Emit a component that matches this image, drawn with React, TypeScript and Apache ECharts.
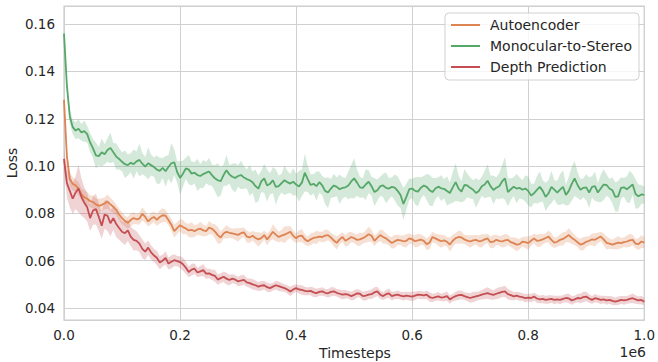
import React, { useEffect, useRef } from "react";
import * as echarts from "echarts";

// Timesteps sampled every 5000 steps from 0 to 1e6 (201 samples)
const TIMESTEPS: number[] = Array.from({ length: 201 }, (_, i) => i * 5000);

const SERIES_NAMES = ["Autoencoder", "Monocular-to-Stereo", "Depth Prediction"];

const AUTOENCODER_MEAN = [
  0.1280, 0.1040, 0.0945, 0.0925, 0.0918, 0.0905, 0.0880, 0.0868, 0.0862, 0.0852,
  0.0848, 0.0838, 0.0832, 0.0836, 0.0842, 0.0850, 0.0838, 0.0828, 0.0815, 0.0795,
  0.0780, 0.0768, 0.0760, 0.0772, 0.0780, 0.0775, 0.0778, 0.0798, 0.0785, 0.0766,
  0.0778, 0.0785, 0.0772, 0.0785, 0.0792, 0.0790, 0.0772, 0.0752, 0.0725, 0.0738,
  0.0750, 0.0742, 0.0736, 0.0728, 0.0730, 0.0725, 0.0732, 0.0735, 0.0728, 0.0725,
  0.0740, 0.0735, 0.0724, 0.0708, 0.0698, 0.0715, 0.0722, 0.0718, 0.0715, 0.0712,
  0.0709, 0.0716, 0.0720, 0.0702, 0.0698, 0.0705, 0.0696, 0.0690, 0.0695, 0.0708,
  0.0690, 0.0705, 0.0722, 0.0710, 0.0700, 0.0706, 0.0710, 0.0716, 0.0722, 0.0705,
  0.0695, 0.0704, 0.0706, 0.0690, 0.0682, 0.0690, 0.0696, 0.0698, 0.0702, 0.0700,
  0.0706, 0.0708, 0.0698, 0.0685, 0.0675, 0.0690, 0.0700, 0.0684, 0.0692, 0.0700,
  0.0695, 0.0688, 0.0690, 0.0695, 0.0702, 0.0712, 0.0705, 0.0684, 0.0696, 0.0708,
  0.0700, 0.0694, 0.0684, 0.0675, 0.0682, 0.0688, 0.0686, 0.0682, 0.0684, 0.0694,
  0.0690, 0.0682, 0.0686, 0.0689, 0.0684, 0.0670, 0.0676, 0.0700, 0.0694, 0.0688,
  0.0682, 0.0686, 0.0680, 0.0668, 0.0684, 0.0695, 0.0700, 0.0698, 0.0690, 0.0685,
  0.0681, 0.0686, 0.0688, 0.0682, 0.0684, 0.0690, 0.0694, 0.0678, 0.0680, 0.0688,
  0.0684, 0.0681, 0.0686, 0.0688, 0.0678, 0.0674, 0.0668, 0.0670, 0.0680, 0.0678,
  0.0674, 0.0684, 0.0694, 0.0684, 0.0686, 0.0690, 0.0696, 0.0702, 0.0688, 0.0676,
  0.0680, 0.0688, 0.0692, 0.0700, 0.0708, 0.0696, 0.0688, 0.0678, 0.0668, 0.0672,
  0.0680, 0.0684, 0.0690, 0.0688, 0.0696, 0.0702, 0.0690, 0.0675, 0.0672, 0.0668,
  0.0672, 0.0676, 0.0674, 0.0678, 0.0681, 0.0686, 0.0688, 0.0672, 0.0670, 0.0681,
  0.0676,
];

const AUTOENCODER_SPREAD = [
  0.0020, 0.0030, 0.0030, 0.0028, 0.0025, 0.0028, 0.0025, 0.0030, 0.0028, 0.0025,
  0.0028, 0.0025, 0.0030, 0.0028, 0.0025, 0.0030, 0.0028, 0.0025, 0.0022, 0.0025,
  0.0025, 0.0022, 0.0025, 0.0028, 0.0025, 0.0022, 0.0025, 0.0028, 0.0025, 0.0022,
  0.0025, 0.0022, 0.0025, 0.0028, 0.0030, 0.0025, 0.0022, 0.0025, 0.0028, 0.0025,
  0.0025, 0.0030, 0.0022, 0.0028, 0.0032, 0.0025, 0.0022, 0.0030, 0.0025, 0.0022,
  0.0028, 0.0022, 0.0030, 0.0035, 0.0025, 0.0022, 0.0028, 0.0022, 0.0020, 0.0025,
  0.0028, 0.0022, 0.0020, 0.0026, 0.0022, 0.0020, 0.0025, 0.0030, 0.0022, 0.0020,
  0.0025, 0.0022, 0.0032, 0.0028, 0.0022, 0.0025, 0.0035, 0.0030, 0.0025, 0.0022,
  0.0020, 0.0025, 0.0028, 0.0022, 0.0020, 0.0025, 0.0022, 0.0028, 0.0020, 0.0022,
  0.0026, 0.0022, 0.0020, 0.0025, 0.0028, 0.0022, 0.0020, 0.0025, 0.0028, 0.0022,
  0.0020, 0.0024, 0.0028, 0.0022, 0.0026, 0.0032, 0.0026, 0.0022, 0.0020, 0.0025,
  0.0028, 0.0022, 0.0020, 0.0025, 0.0028, 0.0022, 0.0020, 0.0024, 0.0028, 0.0022,
  0.0020, 0.0025, 0.0028, 0.0022, 0.0020, 0.0025, 0.0028, 0.0022, 0.0020, 0.0024,
  0.0028, 0.0022, 0.0020, 0.0030, 0.0026, 0.0022, 0.0028, 0.0025, 0.0020, 0.0022,
  0.0026, 0.0022, 0.0020, 0.0025, 0.0028, 0.0022, 0.0020, 0.0024, 0.0028, 0.0022,
  0.0020, 0.0025, 0.0028, 0.0022, 0.0020, 0.0025, 0.0028, 0.0022, 0.0020, 0.0024,
  0.0028, 0.0022, 0.0020, 0.0025, 0.0028, 0.0022, 0.0020, 0.0025, 0.0028, 0.0022,
  0.0020, 0.0024, 0.0028, 0.0022, 0.0030, 0.0026, 0.0022, 0.0020, 0.0025, 0.0028,
  0.0022, 0.0020, 0.0025, 0.0028, 0.0022, 0.0020, 0.0025, 0.0028, 0.0022, 0.0020,
  0.0024, 0.0028, 0.0022, 0.0020, 0.0025, 0.0028, 0.0022, 0.0020, 0.0025, 0.0028,
  0.0022,
];

const MONO_STEREO_MEAN = [
  0.1560, 0.1340, 0.1210, 0.1165, 0.1150, 0.1158, 0.1142, 0.1148, 0.1135, 0.1100,
  0.1075, 0.1045, 0.1042, 0.1058, 0.1050, 0.1068, 0.1077, 0.1058, 0.1040, 0.1030,
  0.1018, 0.1008, 0.1004, 0.1014, 0.1008, 0.1020, 0.1026, 0.1010, 0.0998, 0.1012,
  0.1004, 0.0996, 0.0985, 0.0980, 0.0992, 0.0978, 0.0996, 0.1012, 0.1016, 0.0975,
  0.0950, 0.0968, 0.0990, 0.0985, 0.0968, 0.0972, 0.0962, 0.0958, 0.0966, 0.0972,
  0.0977, 0.0962, 0.0948, 0.0940, 0.0936, 0.0962, 0.0982, 0.0965, 0.0955, 0.0950,
  0.0958, 0.0962, 0.0952, 0.0945, 0.0940, 0.0932, 0.0915, 0.0905, 0.0935, 0.0948,
  0.0918, 0.0925, 0.0940, 0.0912, 0.0915, 0.0928, 0.0940, 0.0932, 0.0926, 0.0934,
  0.0922, 0.0914, 0.0930, 0.0972, 0.0945, 0.0920, 0.0925, 0.0915, 0.0932, 0.0918,
  0.0895, 0.0888, 0.0905, 0.0918, 0.0912, 0.0902, 0.0908, 0.0910, 0.0918, 0.0935,
  0.0948, 0.0930, 0.0910, 0.0908, 0.0922, 0.0934, 0.0915, 0.0890, 0.0898, 0.0915,
  0.0918, 0.0908, 0.0905, 0.0912, 0.0909, 0.0895, 0.0878, 0.0840, 0.0870, 0.0902,
  0.0905, 0.0895, 0.0892, 0.0908, 0.0918, 0.0912, 0.0898, 0.0890, 0.0905, 0.0913,
  0.0906, 0.0904, 0.0895, 0.0886, 0.0910, 0.0932, 0.0905, 0.0892, 0.0920, 0.0918,
  0.0908, 0.0900, 0.0886, 0.0895, 0.0915, 0.0922, 0.0938, 0.0915, 0.0899, 0.0908,
  0.0915, 0.0935, 0.0948, 0.0890, 0.0902, 0.0913, 0.0905, 0.0908, 0.0900, 0.0905,
  0.0895, 0.0875, 0.0885, 0.0899, 0.0912, 0.0895, 0.0870, 0.0885, 0.0912, 0.0900,
  0.0888, 0.0900, 0.0912, 0.0878, 0.0895, 0.0925, 0.0948, 0.0920, 0.0900, 0.0908,
  0.0910, 0.0888, 0.0912, 0.0915, 0.0888, 0.0905, 0.0922, 0.0920, 0.0905, 0.0898,
  0.0870, 0.0872, 0.0908, 0.0910, 0.0902, 0.0912, 0.0922, 0.0882, 0.0872, 0.0880,
  0.0878,
];

const MONO_STEREO_SPREAD = [
  0.0010, 0.0025, 0.0030, 0.0030, 0.0035, 0.0040, 0.0035, 0.0045, 0.0035, 0.0040,
  0.0040, 0.0055, 0.0038, 0.0060, 0.0042, 0.0050, 0.0065, 0.0040, 0.0055, 0.0045,
  0.0040, 0.0058, 0.0045, 0.0040, 0.0062, 0.0042, 0.0070, 0.0045, 0.0040, 0.0068,
  0.0045, 0.0040, 0.0060, 0.0055, 0.0042, 0.0065, 0.0050, 0.0085, 0.0055, 0.0045,
  0.0070, 0.0055, 0.0045, 0.0062, 0.0050, 0.0045, 0.0068, 0.0050, 0.0060, 0.0045,
  0.0058, 0.0045, 0.0055, 0.0072, 0.0060, 0.0045, 0.0065, 0.0040, 0.0055, 0.0062,
  0.0045, 0.0060, 0.0048, 0.0040, 0.0065, 0.0045, 0.0070, 0.0055, 0.0045, 0.0062,
  0.0068, 0.0045, 0.0055, 0.0075, 0.0045, 0.0040, 0.0062, 0.0048, 0.0040, 0.0058,
  0.0045, 0.0065, 0.0055, 0.0080, 0.0055, 0.0045, 0.0040, 0.0062, 0.0045, 0.0040,
  0.0055, 0.0065, 0.0040, 0.0050, 0.0040, 0.0062, 0.0045, 0.0040, 0.0058, 0.0070,
  0.0085, 0.0055, 0.0045, 0.0040, 0.0065, 0.0048, 0.0040, 0.0060, 0.0045, 0.0040,
  0.0050, 0.0065, 0.0045, 0.0040, 0.0055, 0.0062, 0.0055, 0.0068, 0.0055, 0.0045,
  0.0040, 0.0058, 0.0062, 0.0045, 0.0040, 0.0055, 0.0065, 0.0060, 0.0045, 0.0040,
  0.0055, 0.0040, 0.0062, 0.0045, 0.0065, 0.0080, 0.0055, 0.0045, 0.0068, 0.0050,
  0.0045, 0.0040, 0.0062, 0.0045, 0.0040, 0.0058, 0.0070, 0.0045, 0.0060, 0.0045,
  0.0055, 0.0070, 0.0090, 0.0060, 0.0045, 0.0040, 0.0062, 0.0045, 0.0040, 0.0055,
  0.0062, 0.0050, 0.0040, 0.0058, 0.0065, 0.0045, 0.0060, 0.0055, 0.0068, 0.0040,
  0.0050, 0.0065, 0.0070, 0.0045, 0.0060, 0.0072, 0.0075, 0.0055, 0.0045, 0.0040,
  0.0055, 0.0065, 0.0045, 0.0062, 0.0040, 0.0058, 0.0065, 0.0045, 0.0040, 0.0055,
  0.0062, 0.0065, 0.0045, 0.0040, 0.0055, 0.0068, 0.0045, 0.0062, 0.0050, 0.0040,
  0.0035,
];

const DEPTH_MEAN = [
  0.1030, 0.0928, 0.0895, 0.0862, 0.0888, 0.0905, 0.0870, 0.0845, 0.0826, 0.0780,
  0.0812, 0.0818, 0.0785, 0.0748, 0.0795, 0.0790, 0.0758, 0.0780, 0.0755, 0.0738,
  0.0722, 0.0716, 0.0728, 0.0702, 0.0688, 0.0684, 0.0672, 0.0650, 0.0638, 0.0655,
  0.0635, 0.0622, 0.0612, 0.0592, 0.0600, 0.0612, 0.0588, 0.0595, 0.0602, 0.0598,
  0.0594, 0.0585, 0.0570, 0.0552, 0.0562, 0.0566, 0.0550, 0.0555, 0.0560, 0.0545,
  0.0546, 0.0540, 0.0536, 0.0520, 0.0526, 0.0532, 0.0524, 0.0518, 0.0524, 0.0520,
  0.0512, 0.0516, 0.0519, 0.0508, 0.0505, 0.0500, 0.0496, 0.0490, 0.0494, 0.0496,
  0.0488, 0.0484, 0.0490, 0.0496, 0.0492, 0.0488, 0.0484, 0.0478, 0.0470, 0.0478,
  0.0484, 0.0478, 0.0476, 0.0472, 0.0470, 0.0472, 0.0466, 0.0463, 0.0468, 0.0470,
  0.0464, 0.0462, 0.0468, 0.0470, 0.0464, 0.0460, 0.0456, 0.0458, 0.0456, 0.0450,
  0.0455, 0.0462, 0.0460, 0.0450, 0.0452, 0.0456, 0.0458, 0.0466, 0.0470, 0.0456,
  0.0450, 0.0458, 0.0462, 0.0450, 0.0454, 0.0456, 0.0452, 0.0449, 0.0452, 0.0450,
  0.0448, 0.0452, 0.0456, 0.0455, 0.0453, 0.0456, 0.0446, 0.0442, 0.0446, 0.0449,
  0.0444, 0.0446, 0.0450, 0.0436, 0.0444, 0.0450, 0.0454, 0.0455, 0.0450, 0.0446,
  0.0442, 0.0446, 0.0449, 0.0452, 0.0456, 0.0460, 0.0463, 0.0458, 0.0455, 0.0460,
  0.0464, 0.0468, 0.0470, 0.0458, 0.0454, 0.0449, 0.0452, 0.0448, 0.0446, 0.0441,
  0.0444, 0.0442, 0.0448, 0.0440, 0.0436, 0.0438, 0.0434, 0.0436, 0.0438, 0.0434,
  0.0436, 0.0434, 0.0438, 0.0442, 0.0440, 0.0432, 0.0436, 0.0442, 0.0440, 0.0446,
  0.0448, 0.0440, 0.0434, 0.0441, 0.0438, 0.0434, 0.0436, 0.0432, 0.0434, 0.0430,
  0.0427, 0.0430, 0.0434, 0.0432, 0.0434, 0.0438, 0.0441, 0.0436, 0.0432, 0.0434,
  0.0426,
];

const DEPTH_SPREAD = [
  0.0040, 0.0060, 0.0070, 0.0065, 0.0070, 0.0100, 0.0080, 0.0065, 0.0060, 0.0055,
  0.0060, 0.0065, 0.0060, 0.0055, 0.0060, 0.0065, 0.0055, 0.0050, 0.0055, 0.0050,
  0.0045, 0.0050, 0.0045, 0.0040, 0.0045, 0.0040, 0.0035, 0.0040, 0.0035, 0.0030,
  0.0030, 0.0028, 0.0030, 0.0028, 0.0025, 0.0028, 0.0025, 0.0028, 0.0025, 0.0022,
  0.0025, 0.0028, 0.0025, 0.0022, 0.0025, 0.0022, 0.0020, 0.0022, 0.0025, 0.0022,
  0.0020, 0.0022, 0.0025, 0.0022, 0.0020, 0.0022, 0.0025, 0.0022, 0.0020, 0.0018,
  0.0020, 0.0022, 0.0020, 0.0018, 0.0020, 0.0022, 0.0020, 0.0018, 0.0020, 0.0018,
  0.0020, 0.0018, 0.0016, 0.0018, 0.0020, 0.0018, 0.0016, 0.0018, 0.0020, 0.0018,
  0.0016, 0.0018, 0.0020, 0.0018, 0.0016, 0.0018, 0.0020, 0.0018, 0.0016, 0.0018,
  0.0016, 0.0018, 0.0020, 0.0018, 0.0016, 0.0018, 0.0020, 0.0018, 0.0016, 0.0018,
  0.0020, 0.0018, 0.0016, 0.0018, 0.0020, 0.0018, 0.0020, 0.0022, 0.0020, 0.0018,
  0.0016, 0.0018, 0.0020, 0.0018, 0.0016, 0.0018, 0.0016, 0.0018, 0.0016, 0.0018,
  0.0020, 0.0018, 0.0016, 0.0018, 0.0016, 0.0018, 0.0020, 0.0018, 0.0016, 0.0018,
  0.0016, 0.0018, 0.0020, 0.0018, 0.0016, 0.0018, 0.0020, 0.0018, 0.0016, 0.0018,
  0.0020, 0.0022, 0.0020, 0.0018, 0.0020, 0.0022, 0.0024, 0.0022, 0.0020, 0.0022,
  0.0024, 0.0022, 0.0024, 0.0022, 0.0020, 0.0018, 0.0016, 0.0018, 0.0016, 0.0018,
  0.0016, 0.0018, 0.0016, 0.0018, 0.0016, 0.0018, 0.0016, 0.0018, 0.0016, 0.0018,
  0.0016, 0.0018, 0.0016, 0.0018, 0.0020, 0.0018, 0.0016, 0.0018, 0.0020, 0.0022,
  0.0020, 0.0018, 0.0016, 0.0018, 0.0016, 0.0018, 0.0016, 0.0018, 0.0016, 0.0018,
  0.0016, 0.0018, 0.0016, 0.0018, 0.0016, 0.0018, 0.0020, 0.0018, 0.0016, 0.0018,
  0.0016,
];

const COLORS = ["#dd8452", "#55a868", "#c44e52"];
const FONT = "DejaVu Sans";
const TEXT_COLOR = "#262626";

function bandSeries(name: string, mean: number[], spread: number[], color: string) {
  const rows = TIMESTEPS.map((t, i) => [t, mean[i] - spread[i], mean[i] + spread[i]]);
  return {
    type: "custom",
    name: name + " band",
    data: rows,
    encode: { x: 0, y: [1, 2] },
    clip: true,
    silent: true,
    z: 1,
    renderItem: (params: any, api: any) => {
      if (params.dataIndex !== 0) return null;
      const upper = rows.map((r) => api.coord([r[0], r[2]]));
      const lower = rows.map((r) => api.coord([r[0], r[1]])).reverse();
      return {
        type: "polygon",
        shape: { points: upper.concat(lower) },
        style: { fill: color, opacity: 0.25 },
        silent: true,
      };
    },
  };
}

function lineSeries(name: string, mean: number[], color: string, z: number) {
  return {
    type: "line",
    name,
    data: TIMESTEPS.map((t, i) => [t, mean[i]]),
    symbol: "none",
    showSymbol: false,
    lineStyle: { color, width: 1.8 },
    itemStyle: { color },
    z,
  };
}

export default function App() {
  const ref = useRef<HTMLDivElement>(null);
  useEffect(() => {
    if (!ref.current) return;
    const chart = echarts.init(ref.current, null, { renderer: "svg" });
    const means = [AUTOENCODER_MEAN, MONO_STEREO_MEAN, DEPTH_MEAN];
    const spreads = [AUTOENCODER_SPREAD, MONO_STEREO_SPREAD, DEPTH_SPREAD];
    chart.setOption({
      animation: false,
      backgroundColor: "#ffffff",
      textStyle: { fontFamily: FONT },
      grid: {
        left: 64,
        right: 12,
        top: 6,
        bottom: 42,
        show: true,
        borderColor: "#cccccc",
        borderWidth: 1.25,
        backgroundColor: "transparent",
      },
      xAxis: {
        type: "value",
        min: 0,
        max: 1000000,
        interval: 200000,
        axisLine: { show: false },
        axisTick: { show: false },
        splitLine: { show: true, lineStyle: { color: "#d0d0d0", width: 1 } },
        axisLabel: {
          color: TEXT_COLOR,
          fontFamily: FONT,
          fontSize: 13.5,
          margin: 8,
          formatter: (v: number) => (v / 1e6).toFixed(1),
        },
      },
      yAxis: {
        type: "value",
        min: 0.0349,
        max: 0.1677,
        splitNumber: 6,
        axisLine: { show: false },
        axisTick: { show: false },
        splitLine: { show: true, lineStyle: { color: "#d0d0d0", width: 1 } },
        axisLabel: {
          color: TEXT_COLOR,
          fontFamily: FONT,
          fontSize: 13.5,
          margin: 9,
          showMinLabel: false,
          showMaxLabel: false,
          formatter: (v: number) => v.toFixed(2),
        },
      },
      legend: {
        data: SERIES_NAMES,
        orient: "vertical",
        right: 19,
        top: 13,
        icon: "rect",
        itemWidth: 29,
        itemHeight: 2,
        itemGap: 5,
        padding: [4, 7, 5, 6],
        backgroundColor: "rgba(255,255,255,0.8)",
        borderColor: "#d0d0d0",
        borderWidth: 1,
        borderRadius: 4,
        textStyle: {
          fontFamily: FONT,
          fontSize: 14,
          lineHeight: 16,
          color: TEXT_COLOR,
          padding: [0, 0, 0, 5],
        },
      },
      graphic: [
        {
          type: "text",
          x: 12,
          y: 163,
          rotation: Math.PI / 2,
          style: {
            text: "Loss",
            fill: TEXT_COLOR,
            font: `14px "${FONT}"`,
            textAlign: "center",
            textVerticalAlign: "middle",
          },
        },
        {
          type: "text",
          x: 355,
          y: 353,
          style: {
            text: "Timesteps",
            fill: TEXT_COLOR,
            font: `14px "${FONT}"`,
            textAlign: "center",
            textVerticalAlign: "middle",
          },
        },
        {
          type: "text",
          x: 646,
          y: 352,
          style: {
            text: "1e6",
            fill: TEXT_COLOR,
            font: `14px "${FONT}"`,
            textAlign: "right",
            textVerticalAlign: "middle",
          },
        },
      ],
      series: [
        bandSeries(SERIES_NAMES[0], means[0], spreads[0], COLORS[0]),
        bandSeries(SERIES_NAMES[1], means[1], spreads[1], COLORS[1]),
        bandSeries(SERIES_NAMES[2], means[2], spreads[2], COLORS[2]),
        lineSeries(SERIES_NAMES[0], means[0], COLORS[0], 3),
        lineSeries(SERIES_NAMES[1], means[1], COLORS[1], 4),
        lineSeries(SERIES_NAMES[2], means[2], COLORS[2], 5),
      ],
    });
    return () => chart.dispose();
  }, []);
  return (
    <div
      ref={ref}
      style={{ position: "fixed", left: 0, top: 0, width: 658, height: 362 }}
    />
  );
}
